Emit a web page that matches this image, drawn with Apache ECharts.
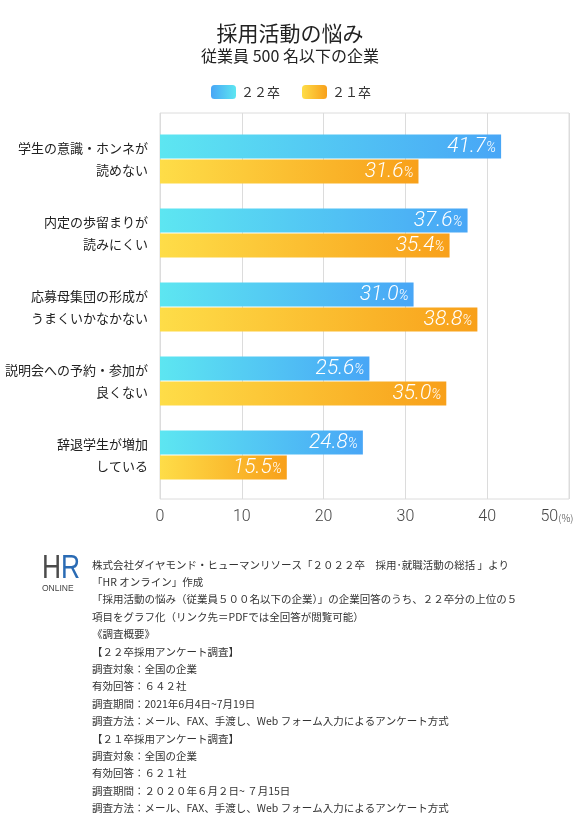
<!DOCTYPE html>
<html><head><meta charset="utf-8">
<script src="https://cdn.jsdelivr.net/npm/echarts@6/dist/echarts.min.js"></script>
<style>html,body{margin:0;padding:0;background:#fff}#c{width:580px;height:836px}</style>
</head><body><div id="c"></div>
<script>
const categories = [
  '学生の意識・ホンネが\n読めない',
  '内定の歩留まりが\n読みにくい',
  '応募母集団の形成が\nうまくいかなかない',
  '説明会への予約・参加が\n良くない',
  '辞退学生が増加\nしている'
];
const seriesNames = ['２２卒', '２１卒'];
const values22 = [41.7, 37.6, 31.0, 25.6, 24.8];
const values21 = [31.6, 35.4, 38.8, 35.0, 15.5];
const xTicks = [0, 10, 20, 30, 40, 50];
const footerLines = [
  '株式会社ダイヤモンド・ヒューマンリソース「２０２２卒　採用･就職活動の総括 」より',
  '「HR オンライン」作成',
  '「採用活動の悩み（従業員５００名以下の企業）」の企業回答のうち、２２卒分の上位の５',
  '項目をグラフ化（リンク先＝PDFでは全回答が閲覧可能）',
  '《調査概要》',
  '【２２卒採用アンケート調査】',
  '調査対象：全国の企業',
  '有効回答：６４２社',
  '調査期間：2021年6月4日~7月19日',
  '調査方法：メール、FAX、手渡し、Web フォーム入力によるアンケート方式',
  '【２１卒採用アンケート調査】',
  '調査対象：全国の企業',
  '有効回答：６２１社',
  '調査期間：２０２０年６月２日~ ７月15日',
  '調査方法：メール、FAX、手渡し、Web フォーム入力によるアンケート方式'
];

const CJK = '"Noto Sans CJK JP", "Noto Sans", sans-serif';
const NUM = 'Roboto, "Liberation Sans", sans-serif';
const lg = (c0, c1) => new echarts.graphic.LinearGradient(0, 0, 1, 0, [{offset: 0, color: c0}, {offset: 1, color: c1}]);
const blueGrad = lg('#5de6f1', '#48a6f6');
const orangeGrad = lg('#fedd48', '#f8a01a');

const chart = echarts.init(document.getElementById('c'), null, {renderer: 'canvas'});
const labelOpt = {
  show: true, position: 'insideRight', distance: 5,
  formatter: p => '{v|' + p.value.toFixed(1) + '}{p|%}',
  rich: {
    v: {color: '#fff', fontSize: 21, fontStyle: 'italic', fontWeight: 300, fontFamily: NUM},
    p: {color: '#fff', fontSize: 14, fontStyle: 'italic', fontWeight: 300, fontFamily: NUM, padding: [4, 0, 0, 0]}
  }
};
chart.setOption({
  animation: false,
  title: {
    text: '採用活動の悩み', subtext: '従業員 500 名以下の企業',
    left: 'center', top: 18, itemGap: 4,
    textStyle: {fontFamily: CJK, fontSize: 21, fontWeight: 'normal', color: '#222'},
    subtextStyle: {fontFamily: CJK, fontSize: 16, color: '#222'}
  },
  legend: {
    left: 211, top: 85, padding: 0, itemWidth: 25, itemHeight: 14, itemGap: 22,
    textStyle: {fontFamily: CJK, fontSize: 13, color: '#333'},
    data: [
      {name: seriesNames[0], itemStyle: {color: lg('#48a6f6', '#5de6f1')}},
      {name: seriesNames[1], itemStyle: {color: orangeGrad}}
    ]
  },
  grid: [
    {left: 160, width: 409, top: 113, height: 386, show: true, borderColor: '#dcdcdc', borderWidth: 1},
    {left: 160, width: 409, top: 122, height: 370}
  ],
  xAxis: [
    {gridIndex: 0, type: 'value', min: 0, max: 50, interval: 10,
     axisLine: {show: false}, axisTick: {show: false},
     splitLine: {lineStyle: {color: '#dcdcdc', width: 1}},
     axisLabel: {margin: 10, color: '#444', fontFamily: NUM, fontWeight: 300, fontSize: 16,
       formatter: v => v === 50 ? '{n|' + v + '}{u|(%)}' : String(v),
       rich: {n: {color: '#444', fontFamily: NUM, fontWeight: 300, fontSize: 16},
              u: {color: '#444', fontFamily: CJK, fontSize: 10, padding: [2, 24, 0, 0]}}}},
    {gridIndex: 1, type: 'value', min: 0, max: 50, interval: 10, show: false}
  ],
  yAxis: [
    {gridIndex: 0, type: 'category', data: categories, show: false},
    {gridIndex: 1, type: 'category', data: categories, inverse: true,
     axisLine: {show: false}, axisTick: {show: false},
     axisLabel: {margin: 12, color: '#222', fontFamily: CJK, fontSize: 13, lineHeight: 22, align: 'right'}}
  ],
  series: [
    {name: seriesNames[0], type: 'bar', xAxisIndex: 1, yAxisIndex: 1, data: values22,
     barWidth: 24, barGap: '4%', itemStyle: {color: blueGrad}, label: labelOpt},
    {name: seriesNames[1], type: 'bar', xAxisIndex: 1, yAxisIndex: 1, data: values21,
     barWidth: 24, barGap: '4%', itemStyle: {color: orangeGrad}, label: labelOpt}
  ],
  graphic: [
    {type: 'text', left: 42, top: 552, scaleX: 0.8,
     style: {text: '{h|H}{r|R}', rich: {
       h: {fontFamily: '"Liberation Sans", sans-serif', fontSize: 33, fill: '#4b4b4b', fontWeight: 'normal'},
       r: {fontFamily: '"Liberation Sans", sans-serif', fontSize: 33, fill: '#2a6bb4', fontWeight: 'normal'}}}},
    {type: 'text', left: 42, top: 584,
     style: {text: 'ONLINE', fontFamily: '"Liberation Sans", sans-serif', fontSize: 8.5, fill: '#444', letterSpacing: 0.8}},
    {type: 'text', left: 92, top: 556,
     style: {text: footerLines.join('\n'), fontFamily: CJK, fontSize: 10.5, lineHeight: 17.4, fill: '#333'}}
  ]
});
</script></body></html>
